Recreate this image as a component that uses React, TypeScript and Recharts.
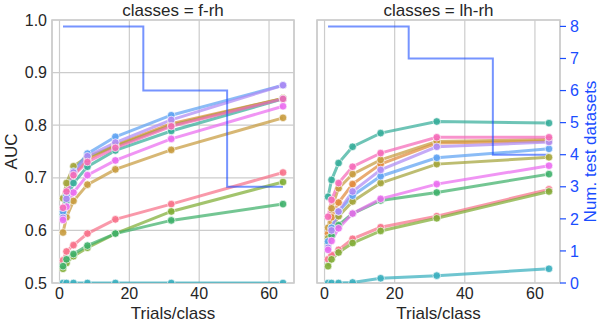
import React from 'react';
import { LineChart, Line, XAxis, YAxis, CartesianGrid, ReferenceArea, Label } from 'recharts';

// ---- data ----
const trials = [1, 2, 4, 8, 16, 32, 64];
const xTicks = [0, 20, 40, 60];
const aucTicks = [0.5, 0.6, 0.7, 0.8, 0.9, 1.0];
const nTicks = [0, 1, 2, 3, 4, 5, 6, 7, 8];
const panelTitles = ['classes = f-rh', 'classes = lh-rh'];

const nTestFrh = [8, 8, 8, 8, 8, 6, 3];
const nTestLhrh = [8, 8, 8, 8, 8, 7, 4];

const seriesKeys = ['pinkRed', 'orange', 'gold', 'olive', 'yellowGreen', 'green', 'teal', 'cyan', 'blue', 'purple', 'magenta', 'pink'];
const seriesColors = ['#f77189', '#e18a3b', '#c89b3e', '#a3a43a', '#7fad35', '#3eb06a', '#36ad9a', '#38aebe', '#5ea2f2', '#ae8af4', '#ea6cf0', '#f56ab9'];

// f-rh panel AUC values (per trials)
const frhPinkRed = [0.543, 0.560, 0.572, 0.594, 0.621, 0.650, 0.710];
const frhOrange = [0.640, 0.672, 0.706, 0.735, 0.762, 0.803, 0.851];
const frhGold = [0.596, 0.625, 0.656, 0.687, 0.716, 0.753, 0.814];
const frhOlive = [0.661, 0.690, 0.722, 0.740, 0.760, 0.800, 0.851];
const frhYellowGreen = [0.527, 0.538, 0.551, 0.567, 0.594, 0.636, 0.692];
const frhGreen = [0.532, 0.545, 0.555, 0.571, 0.594, 0.619, 0.650];
const frhTeal = [0.630, 0.656, 0.690, 0.721, 0.752, 0.789, 0.850];
const frhCyan = [0.5, 0.5, 0.5, 0.5, 0.5, 0.5, 0.5];
const frhBlue = [0.636, 0.666, 0.712, 0.746, 0.778, 0.819, 0.876];
const frhPurple = [0.624, 0.660, 0.710, 0.741, 0.767, 0.810, 0.876];
const frhMagenta = [0.620, 0.645, 0.672, 0.705, 0.733, 0.774, 0.836];
const frhPink = [0.643, 0.674, 0.705, 0.730, 0.757, 0.798, 0.850];

// lh-rh panel AUC values (per trials)
const lhrhPinkRed = [0.545, 0.553, 0.563, 0.584, 0.606, 0.627, 0.678];
const lhrhOrange = [0.594, 0.625, 0.653, 0.688, 0.726, 0.766, 0.770];
const lhrhGold = [0.605, 0.642, 0.680, 0.707, 0.734, 0.769, 0.773];
const lhrhOlive = [0.585, 0.604, 0.627, 0.655, 0.690, 0.726, 0.739];
const lhrhYellowGreen = [0.532, 0.545, 0.558, 0.576, 0.599, 0.623, 0.674];
const lhrhGreen = [0.575, 0.590, 0.610, 0.632, 0.657, 0.672, 0.707];
const lhrhTeal = [0.664, 0.696, 0.728, 0.759, 0.785, 0.807, 0.804];
const lhrhCyan = [0.5, 0.5, 0.5, 0.501, 0.509, 0.514, 0.527];
const lhrhBlue = [0.579, 0.605, 0.636, 0.666, 0.703, 0.738, 0.755];
const lhrhPurple = [0.567, 0.600, 0.636, 0.674, 0.715, 0.759, 0.768];
const lhrhMagenta = [0.563, 0.580, 0.604, 0.632, 0.660, 0.688, 0.723];
const lhrhPink = [0.626, 0.658, 0.690, 0.721, 0.747, 0.777, 0.777];

const frhSeries = [frhPinkRed, frhOrange, frhGold, frhOlive, frhYellowGreen, frhGreen, frhTeal, frhCyan, frhBlue, frhPurple, frhMagenta, frhPink];
const lhrhSeries = [lhrhPinkRed, lhrhOrange, lhrhGold, lhrhOlive, lhrhYellowGreen, lhrhGreen, lhrhTeal, lhrhCyan, lhrhBlue, lhrhPurple, lhrhMagenta, lhrhPink];

function buildRows(series: number[][], nTest: number[]) {
  return trials.map((x, i) => {
    const row: Record<string, number> = { x, n: nTest[i] };
    seriesKeys.forEach((k, j) => {
      row[k] = series[j][i];
    });
    return row;
  });
}

const X_DOMAIN: [number, number] = [-2.15, 67.15];
const TEXT = '#262626';
const TWIN = '#1a4dff';
const GRID = '#cccccc';
const TICK_FS = 16;
const LABEL_FS = 17;

function Panel({ title, rows, first }: { title: string; rows: any[]; first: boolean }) {
  const width = first ? 300 : 301;
  return (
    <LineChart width={width} height={327} data={rows} margin={{ top: 0, right: first ? 6 : 0, bottom: 0, left: 0 }}>
      <CartesianGrid xAxisId="b" yAxisId="auc" stroke={GRID} strokeWidth={1.2} />
      <XAxis
        xAxisId="b"
        dataKey="x"
        type="number"
        domain={X_DOMAIN}
        ticks={xTicks}
        height={44}
        axisLine={false}
        tickLine={false}
        tickSize={0}
        tickMargin={5}
        tick={{ fill: TEXT, fontSize: TICK_FS }}
      >
        <Label
          content={(p: any) => {
            const vb = p.viewBox;
            const cx = vb.x + vb.width / 2;
            return (
              <text x={cx} y={319} textAnchor="middle" fill={TEXT} fontSize={LABEL_FS}>
                Trials/class
              </text>
            );
          }}
        />
      </XAxis>
      <XAxis
        xAxisId="t"
        orientation="top"
        type="number"
        domain={X_DOMAIN}
        height={20}
        tick={false}
        axisLine={false}
        tickLine={false}
      >
        <Label
          content={(p: any) => {
            const vb = p.viewBox;
            const cx = vb.x + vb.width / 2;
            return (
              <text x={cx} y={16} textAnchor="middle" fill={TEXT} fontSize={LABEL_FS}>
                {title}
              </text>
            );
          }}
        />
      </XAxis>
      <YAxis
        yAxisId="auc"
        type="number"
        domain={[0.5, 1.0]}
        allowDataOverflow
        ticks={aucTicks}
        tickFormatter={(v: number) => v.toFixed(1)}
        width={first ? 52 : 17}
        axisLine={false}
        tickLine={false}
        tickSize={0}
        tickMargin={5}
        tick={first ? { fill: TEXT, fontSize: TICK_FS } : false}
      >
        {first && (
          <Label
            content={(p: any) => {
              const vb = p.viewBox;
              const cx = vb.x + 11;
              const cy = vb.y + vb.height / 2;
              return (
                <text x={cx} y={cy} transform={`rotate(-90 ${cx} ${cy})`} textAnchor="middle" dominantBaseline="central" fill={TEXT} fontSize={LABEL_FS}>
                  AUC
                </text>
              );
            }}
          />
        )}
      </YAxis>
      <YAxis
        yAxisId="n"
        orientation="right"
        type="number"
        domain={[0, 8.2]}
        ticks={nTicks}
        hide={first}
        width={41}
        axisLine={false}
        tickLine={{ stroke: TWIN, strokeWidth: 1.2 }}
        tickSize={6}
        tickMargin={4}
        tick={{ fill: TWIN, fontSize: TICK_FS }}
      >
        {!first && (
          <Label
            content={(p: any) => {
              const vb = p.viewBox;
              const cx = vb.x + 30;
              const cy = vb.y + vb.height / 2;
              return (
                <text x={cx} y={cy} transform={`rotate(-90 ${cx} ${cy})`} textAnchor="middle" dominantBaseline="central" fill={TWIN} fontSize={LABEL_FS}>
                  Num. test datasets
                </text>
              );
            }}
          />
        )}
      </YAxis>
      <ReferenceArea
        xAxisId="b"
        yAxisId="auc"
        x1={X_DOMAIN[0]}
        x2={X_DOMAIN[1]}
        y1={0.5}
        y2={1.0}
        fill="none"
        fillOpacity={0}
        stroke={GRID}
        strokeWidth={1.6}
        ifOverflow="visible"
      />
      {seriesKeys.map((k, j) => (
        <Line
          key={k}
          xAxisId="b"
          yAxisId="auc"
          dataKey={k}
          type="linear"
          stroke={seriesColors[j]}
          strokeWidth={3}
          strokeOpacity={0.72}
          dot={{ r: 3.8, fill: seriesColors[j], fillOpacity: 0.9, stroke: '#ffffff', strokeWidth: 0.9 }}
          activeDot={false}
          isAnimationActive={false}
        />
      ))}
      <Line
        xAxisId="b"
        yAxisId="n"
        dataKey="n"
        type="step"
        stroke={TWIN}
        strokeOpacity={0.6}
        strokeWidth={2}
        dot={false}
        activeDot={false}
        isAnimationActive={false}
      />
    </LineChart>
  );
}

export default function App() {
  const frhRows = buildRows(frhSeries, nTestFrh);
  const lhrhRows = buildRows(lhrhSeries, nTestLhrh);
  return (
    <div
      style={{
        position: 'absolute',
        left: 0,
        top: 0,
        width: 601,
        height: 327,
        background: '#ffffff',
        fontFamily: '"Liberation Sans", Arial, sans-serif',
      }}
    >
      <div style={{ position: 'absolute', left: 0, top: 0 }}>
        <Panel title={panelTitles[0]} rows={frhRows} first={true} />
      </div>
      <div style={{ position: 'absolute', left: 300, top: 0 }}>
        <Panel title={panelTitles[1]} rows={lhrhRows} first={false} />
      </div>
    </div>
  );
}
